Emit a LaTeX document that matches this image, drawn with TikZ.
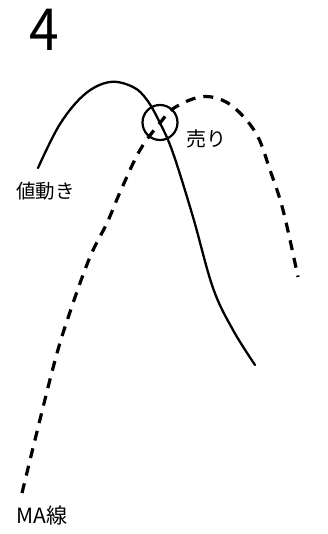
\documentclass[tikz,border=0pt]{standalone}
\usepackage{fontspec}
\newfontfamily\jp{Noto Sans CJK JP}
\begin{document}
\begin{tikzpicture}[x=1pt,y=-1pt,
  price/.style={line width=2.3pt,line cap=round,line join=round},
  maline/.style={line width=3.2pt,dash pattern=on 10pt off 8pt},
  lbl/.style={inner sep=0pt,font=\jp}]
\useasboundingbox (0,0) rectangle (327,534);
\node[lbl,anchor=base west,font=\jp\fontsize{58}{58}\selectfont,xscale=0.92] (num) at (29,51) {4};
% price curve
\draw[price] plot[smooth,tension=0.6] coordinates {(38,168) (60,124) (85,94) (110,82) (133,87) (147,100) (160,123) (173,153) (193,217) (213,288) (233,330) (255,365)};
% MA line
\draw[maline] plot[smooth,tension=0.6] coordinates {(22,493) (53,368) (70,312) (90,257) (107,223) (121,190) (140,150) (160,123) (174,108) (200,97) (222,100) (241,114) (258,137) (270,170) (283,210) (298,277)};
\node[draw,circle,line width=2.2pt,minimum size=35pt,inner sep=0pt] (cross) at (160,122.5) {};
\node[lbl,anchor=west,font=\jp\fontsize{20}{20}\selectfont] (sell) at (186,139) {売り};
\node[lbl,anchor=west,font=\jp\fontsize{19.5}{19.5}\selectfont] (pr) at (16,191) {値動き};
\node[lbl,anchor=west,font=\jp\fontsize{21}{21}\selectfont] (ma) at (16,516) {MA線};
\end{tikzpicture}
\end{document}
